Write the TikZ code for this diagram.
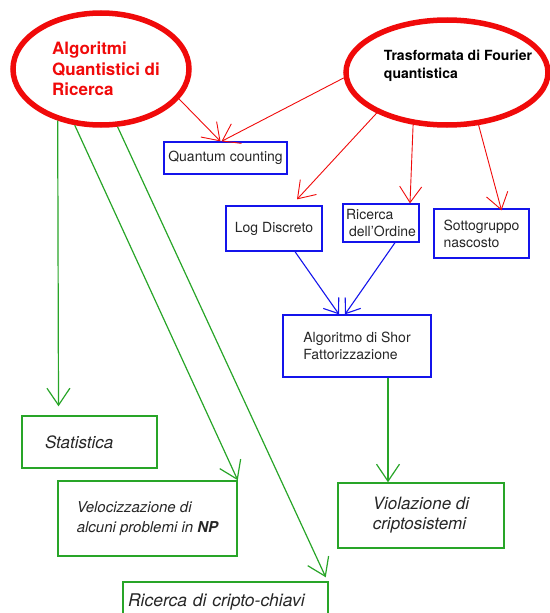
\documentclass[tikz,border=0pt]{standalone}
\usepackage{fontspec}
\setmainfont{TeX Gyre Heros}
\usetikzlibrary{positioning,shapes.geometric,arrows.meta}
\definecolor{qred}{RGB}{240,10,10}
\definecolor{qblue}{RGB}{20,20,235}
\definecolor{qgreen}{RGB}{40,165,40}
\tikzset{
  oval/.style={ellipse,draw=qred,line width=5.5pt,inner sep=0pt},
  bluebox/.style={draw=qblue,line width=1.3pt,inner sep=0pt,align=left,
    font=\fontsize{14}{17}\selectfont,text=black!85},
  greenbox/.style={draw=qgreen,line width=1.5pt,inner sep=0pt,align=left,
    font=\fontsize{17}{20}\selectfont\itshape,text=black!85},
  redline/.style={draw=qred,line width=0.9pt,-{Straight Barb[length=16pt,width=22pt]}},
  blueline/.style={draw=qblue,line width=1.1pt,-{Straight Barb[length=13pt,width=19pt]}},
  greenline/.style={draw=qgreen,line width=1.2pt,-{Straight Barb[length=17pt,width=23pt]}},
}

\begin{document}
\begin{tikzpicture}[x=1pt,y=-1pt]
		\useasboundingbox (0,0) rectangle (549,613);

		% the two ovals
		\node[oval,minimum width=176pt,minimum height=112pt,
			label={[font=\fontsize{17}{20.5}\selectfont\bfseries,text=qred,align=left,xshift=5pt]center:{Algoritmi\\Quantistici di\\Ricerca}}] (alg) at (101,69) {};
		\node[oval,minimum width=202pt,minimum height=105pt,
			label={[font=\fontsize{14}{18}\selectfont\bfseries,align=left,xshift=11pt,yshift=7pt]center:{Trasformata di Fourier\\quantistica}}] (fou) at (447,72.5) {};

		% algorithms
		\node[bluebox,minimum width=123pt,minimum height=32pt] (qc) at (225.5,158) {Quantum counting};
		\node[bluebox,minimum width=96pt,minimum height=45pt] (log) at (274,228.5) {Log Discreto};
		\node[bluebox,minimum width=76pt,minimum height=38pt] (ric) at (381,223) {Ricerca\\\hspace*{3pt}dell'Ordine};
		\node[bluebox,minimum width=95pt,minimum height=49pt] (sot) at (481.5,233.5) {Sottogruppo\\nascosto};
		\node[bluebox,minimum width=148pt,minimum height=62pt] (shor) at (357,346) {Algoritmo di Shor\\Fattorizzazione};

		% applications
		\node[greenbox,minimum width=166pt,minimum height=65pt] (vio) at (421,515.5) {Violazione di\\criptosistemi};
		\node[greenbox,minimum width=135pt,minimum height=52pt,text width=89pt,inner xsep=23pt] (stat) at (89.5,442) {Statistica};
		\node[greenbox,minimum width=179pt,minimum height=75pt,font=\fontsize{15}{20}\selectfont\itshape] (vel) at (147.5,518.5) {Velocizzazione di\\alcuni problemi in \textbf{NP}};
		\node[greenbox,minimum width=205pt,minimum height=40pt,text width=195pt,inner xsep=5pt,font=\fontsize{17.5}{20}\selectfont\itshape] (cri) at (225.5,602) {Ricerca di cripto-chiavi};

		\draw[redline] (alg.-21) -- ([xshift=-5pt]qc.north);
		\draw[redline] (fou.183) -- ([xshift=-4pt]qc.north);
		\draw[redline] (fou.210) -- ([xshift=23pt,yshift=6pt]log.north);
		\draw[redline] (fou.237) -- ([xshift=29pt]ric.north);
		\draw[redline] (fou.-59) -- ([xshift=20pt,yshift=-2pt]sot.north);

		\draw[blueline] ([xshift=21pt]log.south) -- ([xshift=-18pt]shor.north);
		\draw[blueline] ([xshift=14pt]ric.south) -- ([xshift=-12pt]shor.north);

		\draw[greenline] ([xshift=31pt]shor.south) -- ([xshift=-33pt]vio.north);
		\draw[greenline] (alg.230) -- ([xshift=-31pt,yshift=9pt]stat.north);
		\draw[greenline] (alg.245) -- (vel.north east);
		\draw[greenline] (alg.286) -- ([xshift=-3pt,yshift=4pt]cri.north east);
	\end{tikzpicture}
\end{document}
